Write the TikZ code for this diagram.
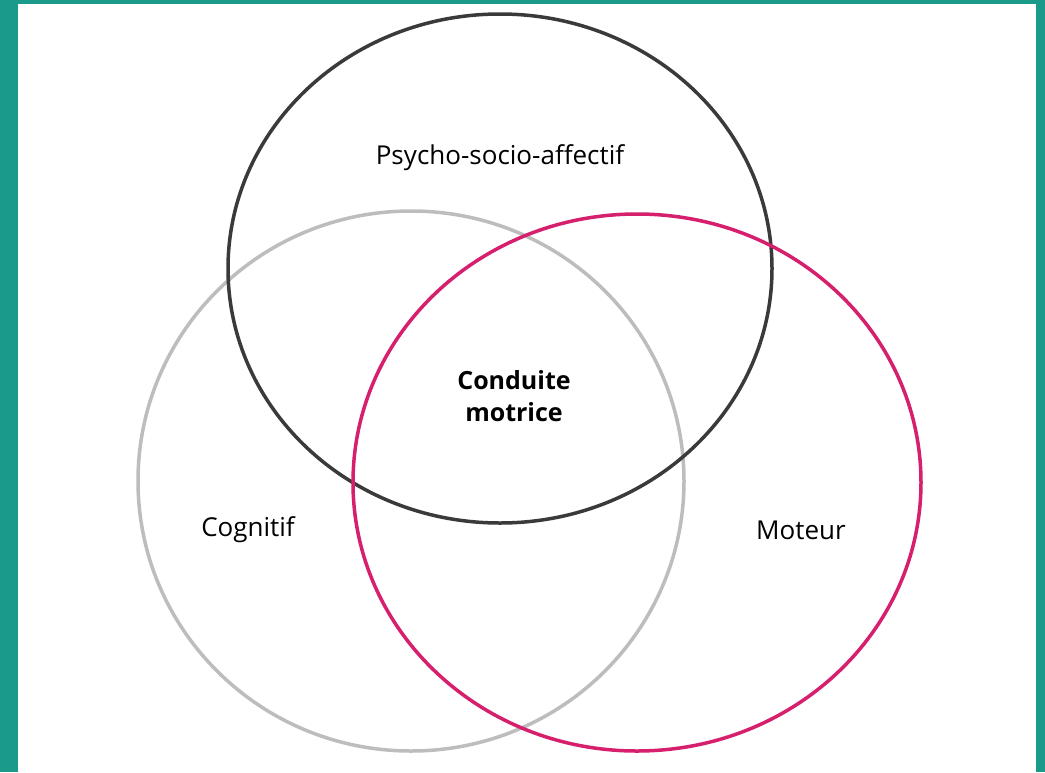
\documentclass[tikz,border=0pt]{standalone}
\usepackage{fontspec}
\setmainfont{Open Sans}
\definecolor{teal1}{HTML}{1A9A88}
\definecolor{darkc}{HTML}{3A3A3A}
\definecolor{lightc}{HTML}{BDBDBD}
\definecolor{pinkc}{HTML}{D6206E}
\tikzset{
  ring/.style={line width=3.5pt},
  lab/.style={font=\fontsize{26}{32}\selectfont, inner sep=0pt, align=center},
}
\begin{document}
\begin{tikzpicture}[x=1pt,y=-1pt]
\useasboundingbox (0,0) rectangle (1045,772);
\fill[teal1] (0,0) rectangle (1045,772);
\fill[white] (18,4) rectangle (1036,772);
\draw[ring, lightc] (411,481) ellipse [x radius=273, y radius=270];
\draw[ring, darkc] (500,268.5) ellipse [x radius=272, y radius=254.5];
\draw[ring, pinkc] (637,482.5) ellipse [x radius=284, y radius=268.5];
\node[lab] (psa) at (500,158) {Psycho-socio-affectif};
\node[lab, font=\fontsize{25}{32}\selectfont\bfseries] (cm) at (514,396) {Conduite\\motrice};
\node[lab] (cog) at (248,530) {Cognitif};
\node[lab] (mot) at (801,530) {Moteur};
\end{tikzpicture}
\end{document}
